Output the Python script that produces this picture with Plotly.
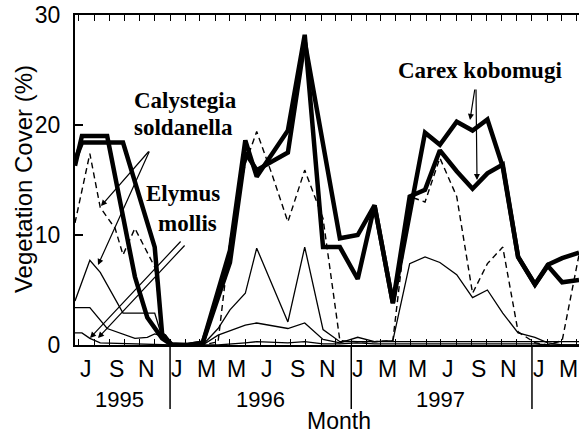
import plotly.graph_objects as go

# Sampling dates (shared by all series); None = no vertex plotted for that series
dates = [
    "1995-06-23", "1995-07-07", "1995-07-23", "1995-08-13", "1995-08-27", "1995-09-12",
    "1995-09-28", "1995-10-22", "1995-11-16", "1995-12-01", "1995-12-16", "1996-01-05",
    "1996-02-06", "1996-03-07", "1996-04-07", "1996-05-01", "1996-06-01", "1996-06-24",
    "1996-07-25", "1996-08-26", "1996-09-29", "1996-11-05", "1996-12-09", "1997-01-14",
    "1997-02-17", "1997-03-26", "1997-04-29", "1997-05-30", "1997-06-29", "1997-08-02",
    "1997-09-03", "1997-10-03", "1997-11-03", "1997-12-04", "1998-01-07", "1998-02-02",
    "1998-03-03", "1998-04-06",
]

# Carex kobomugi, two plots (thick lines)
carex_a = [16.3, 19.0, None, None, 19.0, None, 11.4, 6.2, 2.5, None, 0.6, 0.0,
           0.0, 0.2, None, 8.6, 18.6, 15.3, None, 19.5, 28.2, 8.9, 8.9, 6.0,
           12.7, 3.8, None, 19.3, 18.2, 20.3, 19.5, 20.5, 16.2, 8.0, 5.5, 7.3, 7.9, 8.4]
carex_b = [16.8, 18.4, None, None, None, None, 18.4, None, None, 8.9, 1.0, 0.0,
           0.0, 0.2, None, 7.5, 17.5, 15.9, None, 17.5, 27.6, None, 9.7, 10.0,
           12.7, 3.8, 13.5, 14.1, 17.7, 15.8, 14.2, 15.6, 16.4, 8.0, 5.5, 7.2, 5.7, 5.9]

# Calystegia soldanella, two plots (dashed line / thin line)
calystegia_a = [11.1, None, 17.4, 12.5, None, 10.6, 8.2, 10.6, None, 7.1, 1.4, 0.0,
                0.0, 0.0, 0.3, 9.5, 16.5, 19.4, 15.5, 11.2, 15.9, 11.5, 0.4, 0.3,
                0.3, 0.4, 13.5, 13.0, 17.0, 13.5, 4.7, 7.4, 8.9, 1.2, 0.2, 0.0, 0.4, 8.2]
calystegia_b = [4.0, None, 7.7, 6.6, None, None, 2.9, None, None, 2.9, 0.7, 0.2,
                None, 0.0, 1.5, 3.2, 4.7, 8.8, None, 2.1, 8.9, 1.4, 0.3, 0.3,
                0.3, 0.4, 7.4, 8.0, 7.5, 6.4, 4.3, 5.0, 2.9, 1.1, 0.7, 0.2, 0.0, 0.0]

# Elymus mollis, two plots (thin lines near the base)
elymus_a = [3.4, None, 3.4, None, 1.5, None, None, 0.6, 0.7, 1.0, 0.8, 0.0,
            None, 0.0, 0.9, None, 1.8, 2.0, None, 1.5, 2.0, 0.5, 0.2, 0.7,
            0.3, 0.3, 0.3, 0.3, 0.3, 0.3, 0.3, 0.3, 0.3, 0.3, 0.3, 0.3, 0.3, 0.3]
elymus_b = [1.1, 1.1, 0.6, 0.2, None, None, None, None, None, None, None, 0.0,
            None, 0.0, 0.0, None, 0.2, 0.3, None, 0.2, 0.3, 0.1, 0.1, 0.2,
            0.1, 0.1, 0.1, 0.1, 0.1, 0.1, 0.1, 0.1, 0.1, 0.1, 0.1, 0.0, 0.0, 0.0]

# Bottom axis labels (mid-month) and year captions
month_dates = ["1995-07-15", "1995-09-15", "1995-11-15",
               "1996-01-15", "1996-03-15", "1996-05-15", "1996-07-15", "1996-09-15", "1996-11-15",
               "1997-01-15", "1997-03-15", "1997-05-15", "1997-07-15", "1997-09-15", "1997-11-15",
               "1998-01-15", "1998-03-15"]
month_letters = ["J", "S", "N", "J", "M", "M", "J", "S", "N", "J", "M", "M", "J", "S", "N", "J", "M"]
year_dates = ["1995-09-20", "1996-07-01", "1997-07-01"]
year_labels = ["1995", "1996", "1997"]
year_breaks = ["1996-01-01", "1997-01-01", "1998-01-01"]

AX_FONT = "Liberation Sans Narrow, Arial Narrow, Liberation Sans, sans-serif"
LBL_FONT = "Liberation Serif, Times New Roman, serif"

fig = go.Figure()

def add_line(values, width, dash):
    fig.add_trace(go.Scatter(
        x=dates, y=values, mode="lines", connectgaps=True,
        line=dict(color="black", width=width, dash=dash), hoverinfo="skip",
        showlegend=False,
    ))

add_line(elymus_a, 1.3, "solid")
add_line(elymus_b, 1.3, "solid")
add_line(calystegia_b, 1.3, "solid")
add_line(calystegia_a, 1.4, "6px,4px")
add_line(carex_a, 4.5, "solid")
add_line(carex_b, 4.5, "solid")

def text_ann(x, y, text, font, xref="paper", angle=0):
    return dict(x=x, y=y, xref=xref, yref="paper", text=text, showarrow=False,
                xanchor="center", yanchor="middle", textangle=angle, font=font)

ax_font = dict(family=AX_FONT, size=23, color="black")
annotations = []
for d, t in zip(month_dates, month_letters):
    annotations.append(text_ann(d, -0.073, t, ax_font, xref="x"))
for d, t in zip(year_dates, year_labels):
    annotations.append(text_ann(d, -0.164, t, dict(family=AX_FONT, size=22, color="black"), xref="x"))
annotations.append(text_ann(0.524, -0.230, "Month", ax_font))
annotations.append(text_ann(-0.103, 0.503, "Vegetation Cover (%)",
                            dict(family=AX_FONT, size=24, color="black"), angle=-90))

# Species labels
lbl = dict(family=LBL_FONT, size=23, color="black")
annotations += [
    text_ann(0.2202, 0.7424, "<b>Calystegia</b>", lbl),
    text_ann(0.2143, 0.6606, "<b>soldanella</b>", lbl),
    text_ann(0.2143, 0.4576, "<b>Elymus</b>", lbl),
    text_ann(0.2242, 0.3667, "<b>mollis</b>", lbl),
    text_ann(0.8036, 0.8333, "<b>Carex kobomugi</b>", lbl),
]

def px_to_paper(px, py):
    return (px - 75) / 504.0, (345 - py) / 330.0

# Pointer lines from the species labels: (tail pixel), (head pixel)
arrows = [
    ((150, 150), (101, 206)),
    ((150, 150), (98, 265)),
    ((182, 240), (90, 338)),
    ((186, 244), (98, 338)),
    ((475, 88), (470, 120)),
    ((476, 88), (477, 180)),
]
for (sx, sy), (ex, ey) in arrows:
    hx, hy = px_to_paper(ex, ey)
    annotations.append(dict(x=hx, y=hy, ax=sx - ex, ay=sy - ey, xref="paper", yref="paper",
                            axref="pixel", ayref="pixel", text="", showarrow=True,
                            arrowhead=2, arrowsize=1, arrowwidth=1.2, arrowcolor="black"))

shapes = [dict(type="line", xref="x", yref="paper", x0=d, x1=d, y0=0, y1=-0.194,
               line=dict(color="black", width=1.5)) for d in year_breaks]

fig.update_layout(
    width=579, height=439,
    margin=dict(l=75, r=0, t=15, b=94),
    paper_bgcolor="white", plot_bgcolor="white",
    annotations=annotations, shapes=shapes,
    xaxis=dict(type="date", range=["1995-06-23", "1998-04-06"], showgrid=False, zeroline=False,
               showline=True, linecolor="black", linewidth=2, mirror="ticks",
               ticks="inside", ticklen=6, tickwidth=1.2, tickcolor="black",
               tick0="1995-07-01", dtick="M1", showticklabels=False),
    yaxis=dict(range=[0, 30], tickvals=[0, 10, 20, 30], showgrid=False, zeroline=False,
               showline=True, linecolor="black", linewidth=2,
               ticks="inside", ticklen=8, tickwidth=1.5, tickcolor="black",
               ticklabelstandoff=8,
               tickfont=dict(family=AX_FONT, size=23, color="black")),
)

fig.write_html("out.html")
